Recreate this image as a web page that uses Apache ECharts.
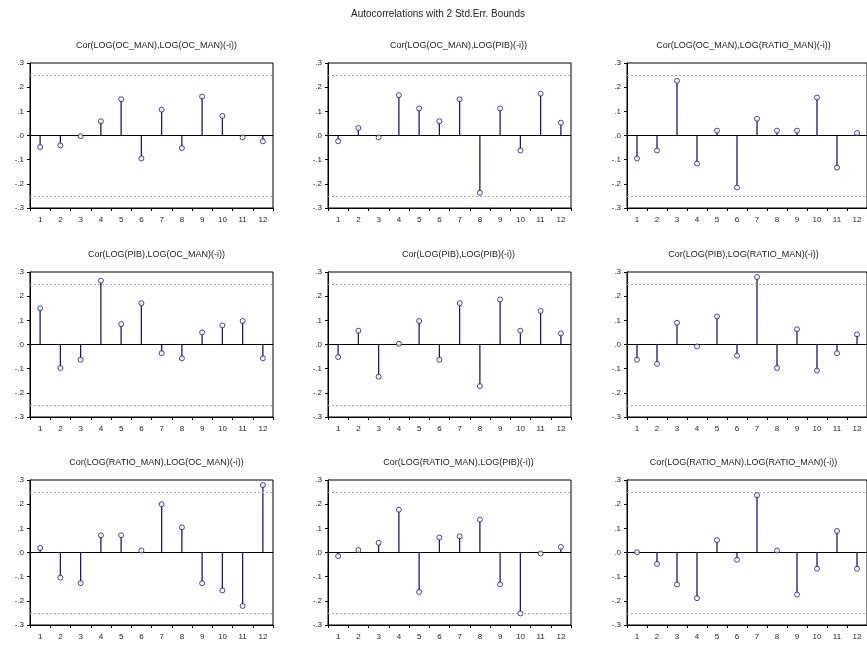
<!DOCTYPE html>
<html>
<head>
<meta charset="utf-8">
<script src="https://cdn.jsdelivr.net/npm/echarts@6/dist/echarts.min.js"></script>
<style>html,body{margin:0;padding:0;background:#fff;}#c{width:867px;height:646px;}</style>
</head>
<body>
<div id="c"></div>
<script>
const lags = ['1','2','3','4','5','6','7','8','9','10','11','12'];
const yTicks = [-0.3, -0.2, -0.1, 0, 0.1, 0.2, 0.3];
const bound = 0.25;
const mainTitle = 'Autocorrelations with 2 Std.Err. Bounds';
const titles = [
  'Cor(LOG(OC_MAN),LOG(OC_MAN)(-i))',
  'Cor(LOG(OC_MAN),LOG(PIB)(-i))',
  'Cor(LOG(OC_MAN),LOG(RATIO_MAN)(-i))',
  'Cor(LOG(PIB),LOG(OC_MAN)(-i))',
  'Cor(LOG(PIB),LOG(PIB)(-i))',
  'Cor(LOG(PIB),LOG(RATIO_MAN)(-i))',
  'Cor(LOG(RATIO_MAN),LOG(OC_MAN)(-i))',
  'Cor(LOG(RATIO_MAN),LOG(PIB)(-i))',
  'Cor(LOG(RATIO_MAN),LOG(RATIO_MAN)(-i))'
];
const ocOc       = [-0.048, -0.041, -0.003, 0.059, 0.150, -0.095, 0.107, -0.052, 0.161, 0.081, -0.008, -0.024];
const ocPib      = [-0.024, 0.031, -0.008, 0.167, 0.112, 0.059, 0.150, -0.237, 0.112, -0.062, 0.173, 0.053];
const ocRatio    = [-0.095, -0.062, 0.226, -0.116, 0.020, -0.215, 0.069, 0.020, 0.020, 0.157, -0.133, 0.010];
const pibOc      = [0.150, -0.097, -0.063, 0.264, 0.084, 0.171, -0.036, -0.057, 0.050, 0.079, 0.097, -0.057];
const pibPib     = [-0.052, 0.057, -0.133, 0.003, 0.097, -0.063, 0.171, -0.172, 0.186, 0.057, 0.139, 0.046];
const pibRatio   = [-0.063, -0.080, 0.090, -0.008, 0.116, -0.046, 0.279, -0.097, 0.063, -0.108, -0.036, 0.042];
const ratioOc    = [0.019, -0.104, -0.127, 0.071, 0.071, 0.008, 0.200, 0.104, -0.127, -0.157, -0.221, 0.279];
const ratioPib   = [-0.015, 0.010, 0.040, 0.177, -0.163, 0.062, 0.067, 0.136, -0.132, -0.252, -0.004, 0.023];
const ratioRatio = [0.001, -0.047, -0.132, -0.189, 0.051, -0.030, 0.237, 0.008, -0.174, -0.067, 0.089, -0.067];
const panels = [ocOc, ocPib, ocRatio, pibOc, pibPib, pibRatio, ratioOc, ratioPib, ratioRatio];

const colLeft = [30, 328, 627];
const titleShift = [0, 4, -10];
const rowTop = [63, 272, 480];
const gw = 243, gh = 145;
const stemColor = '#1a1a70';
const font = 'Liberation Sans, Arial, sans-serif';

const grids = [], xAxes = [], yAxes = [], series = [], titleArr = [];
titleArr.push({text: mainTitle, left: 433, top: 4, textAlign: 'center',
  textStyle: {fontSize: 10, fontWeight: 'normal', color: '#222', fontFamily: font}});
panels.forEach((vals, i) => {
  const r = Math.floor(i / 3), c = i % 3;
  grids.push({left: colLeft[c], top: rowTop[r], width: gw, height: gh,
    show: true, borderColor: '#000', borderWidth: 1, backgroundColor: 'transparent'});
  titleArr.push({text: titles[i], left: colLeft[c] + gw / 2 + titleShift[c], top: rowTop[r] - 27, textAlign: 'center',
    textStyle: {fontSize: 9, fontWeight: 'normal', color: '#222', fontFamily: font}});
  xAxes.push({type: 'category', gridIndex: i, data: lags, boundaryGap: true,
    position: 'bottom', axisLine: {onZero: false, lineStyle: {color: '#000'}},
    axisTick: {show: true, inside: false, length: 3, lineStyle: {color: '#000'}},
    axisLabel: {fontSize: 8, color: '#222', margin: 8, fontFamily: font, interval: 0},
    splitLine: {show: false}});
  yAxes.push({type: 'value', gridIndex: i, min: yTicks[0], max: yTicks[yTicks.length - 1], interval: 0.1,
    axisLine: {show: true, lineStyle: {color: '#000'}},
    axisTick: {show: true, inside: false, length: 3, lineStyle: {color: '#000'}},
    axisLabel: {fontSize: 8, color: '#222', margin: 6, fontFamily: font,
      formatter: v => { let s = (Math.round(v * 10) / 10).toFixed(1); return s.replace('0.', '.'); }},
    splitLine: {show: false}});
  series.push({type: 'bar', xAxisIndex: i, yAxisIndex: i, data: vals, barWidth: 1.3,
    itemStyle: {color: stemColor}, silent: true, animation: false,
    markLine: {silent: true, symbol: 'none', animation: false, label: {show: false},
      data: [
        {yAxis: 0, lineStyle: {color: '#000', type: 'solid', width: 1}},
        {yAxis: bound, lineStyle: {color: '#aaa', type: [2, 2], width: 1}},
        {yAxis: -bound, lineStyle: {color: '#aaa', type: [2, 2], width: 1}}
      ]}});
  series.push({type: 'scatter', xAxisIndex: i, yAxisIndex: i, data: vals, symbol: 'circle', symbolSize: 5,
    itemStyle: {color: '#fff', borderColor: stemColor, borderWidth: 1}, silent: true, animation: false, z: 5});
});

const chart = echarts.init(document.getElementById('c'));
chart.setOption({backgroundColor: '#fff', animation: false, title: titleArr,
  grid: grids, xAxis: xAxes, yAxis: yAxes, series: series});
</script>
</body>
</html>
